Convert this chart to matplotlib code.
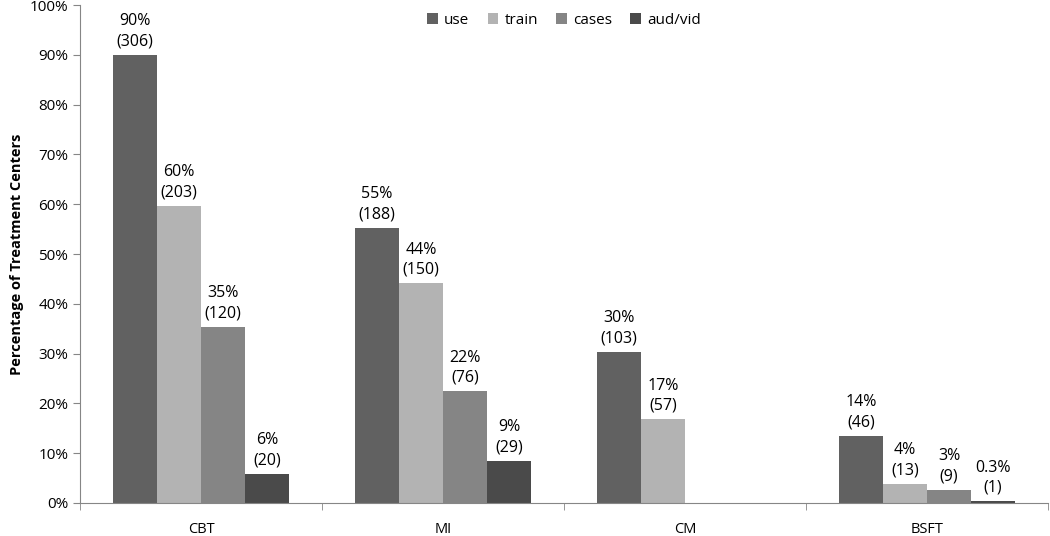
import matplotlib.pyplot as plt
import numpy as np

plt.rcParams['font.family'] = ['Open Sans', 'DejaVu Sans']

categories = ['CBT', 'MI', 'CM', 'BSFT']
series = ['use', 'train', 'cases', 'aud/vid']
pct = {
    'use': [90.0, 55.3, 30.3, 13.5],
    'train': [59.7, 44.1, 16.8, 3.8],
    'cases': [35.3, 22.4, 0, 2.6],
    'aud/vid': [5.9, 8.5, 0, 0.3],
}
labels = {
    'use': ['90%\n(306)', '55%\n(188)', '30%\n(103)', '14%\n(46)'],
    'train': ['60%\n(203)', '44%\n(150)', '17%\n(57)', '4%\n(13)'],
    'cases': ['35%\n(120)', '22%\n(76)', None, '3%\n(9)'],
    'aud/vid': ['6%\n(20)', '9%\n(29)', None, '0.3%\n(1)'],
}
colors = ['#616161', '#b3b3b3', '#858585', '#4a4a4a']

fig = plt.figure(figsize=(10.5, 5.36), dpi=100)
ax = fig.add_axes([0.0762, 0.0616, 0.922, 0.929])

x = np.arange(len(categories))
w = 0.182
for i, s in enumerate(series):
    pos = x + (i - 1.5) * w
    bars = ax.bar(pos, pct[s], width=w, color=colors[i], label=s)
    for b, lab in zip(bars, labels[s]):
        if lab is None:
            continue
        ax.annotate(lab, (b.get_x() + b.get_width() / 2, b.get_height()),
                    xytext=(0, 4), textcoords='offset points',
                    ha='center', va='bottom', fontsize=11.5, linespacing=1.35)

ax.set_xlim(-0.5, len(categories) - 0.5)
ax.set_ylim(0, 100)
ax.set_yticks(range(0, 101, 10))
ax.set_yticklabels([f'{v}%' for v in range(0, 101, 10)], fontsize=11)
ax.set_xticks(x)
ax.set_xticklabels(categories, fontsize=10.5)
ax.tick_params(axis='x', which='major', length=0, pad=14)
ax.set_xticks(np.arange(-0.5, len(categories)), minor=True)
ax.tick_params(axis='x', which='minor', length=5, color='#868686', direction='out')
ax.tick_params(axis='y', length=5, color='#868686', direction='out')
ax.set_ylabel('Percentage of Treatment Centers', fontsize=10.5, fontweight='bold')

for sp in ['top', 'right']:
    ax.spines[sp].set_visible(False)
for sp in ['left', 'bottom']:
    ax.spines[sp].set_color('#868686')

ax.legend(loc='upper center', bbox_to_anchor=(0.5, 1.012), ncol=4, frameon=False,
          fontsize=11, handlelength=0.7, handleheight=0.7, columnspacing=1.2,
          handletextpad=0.4)

fig.savefig('out.png', dpi=100)
